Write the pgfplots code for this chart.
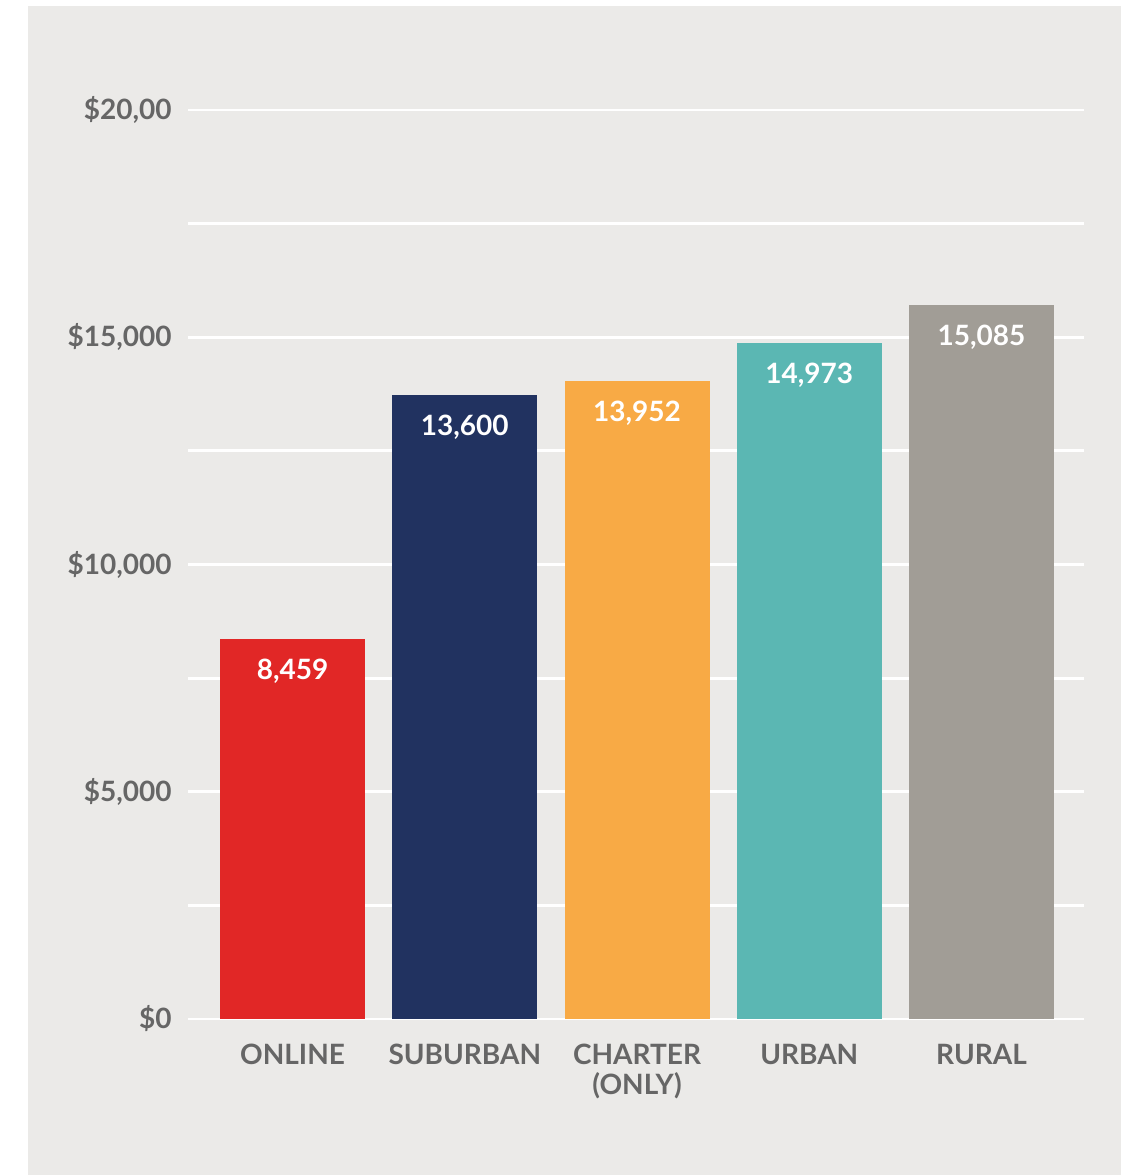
\documentclass[border=0pt]{standalone}
\usepackage{pgfplots}
\pgfplotsset{compat=1.18}
\usepackage{fontspec}
\setmainfont{Lato}
\definecolor{bgc}{HTML}{EBEAE8}
\definecolor{tgray}{HTML}{666666}
\definecolor{cRed}{HTML}{E12726}
\definecolor{cNavy}{HTML}{213260}
\definecolor{cOrange}{HTML}{F8AA45}
\definecolor{cTeal}{HTML}{5BB7B3}
\definecolor{cGray}{HTML}{A19D96}
\begin{document}
\begin{tikzpicture}
\path[use as bounding box] (0pt,0pt) rectangle (560.5pt,587.5pt);
\fill[bgc] (14pt,0pt) rectangle (560.5pt,584.5pt);
\begin{axis}[
  at={(94pt,78pt)}, anchor=south west,
  scale only axis, width=448pt, height=454.5pt,
  xmin=-0.607, xmax=4.595, ymin=0, ymax=20000,
  scaled y ticks=false,
  axis line style={draw=none}, tick style={draw=none},
  ybar, bar width=0.842, bar shift=0pt,
  xtick={0,1,2,3,4},
  xticklabels={ONLINE,SUBURBAN,{CHARTER\\(ONLY)},URBAN,RURAL},
  xticklabel style={align=center, font=\bfseries\fontsize{14pt}{15pt}\selectfont, text=tgray, inner sep=0pt, anchor=north, yshift=-8pt},
  ytick={0,2500,...,20000},
  yticklabels={{\$0},{},{\$5,000},{},{\$10,000},{},{\$15,000},{},{\$20,00}},
  yticklabel style={font=\bfseries\fontsize{14pt}{14pt}\selectfont, text=tgray, inner sep=0pt, anchor=east, xshift=-8pt},
  ymajorgrids, grid style={white, line width=1.4pt},
  nodes near coords, point meta=explicit symbolic,
  every node near coord/.append style={text=white, font=\bfseries\fontsize{14pt}{14pt}\selectfont, anchor=north, inner sep=0pt, yshift=-10pt},
  every axis plot/.append style={draw=none},
]
\addplot[fill=cRed] table[meta=label] {
x y label
0 8360 8,459
};
\addplot[fill=cNavy] table[meta=label] {
x y label
1 13729 13,600
};
\addplot[fill=cOrange] table[meta=label] {
x y label
2 14037 13,952
};
\addplot[fill=cTeal] table[meta=label] {
x y label
3 14873 14,973
};
\addplot[fill=cGray] table[meta=label] {
x y label
4 15709 15,085
};
\end{axis}
\end{tikzpicture}
\end{document}
